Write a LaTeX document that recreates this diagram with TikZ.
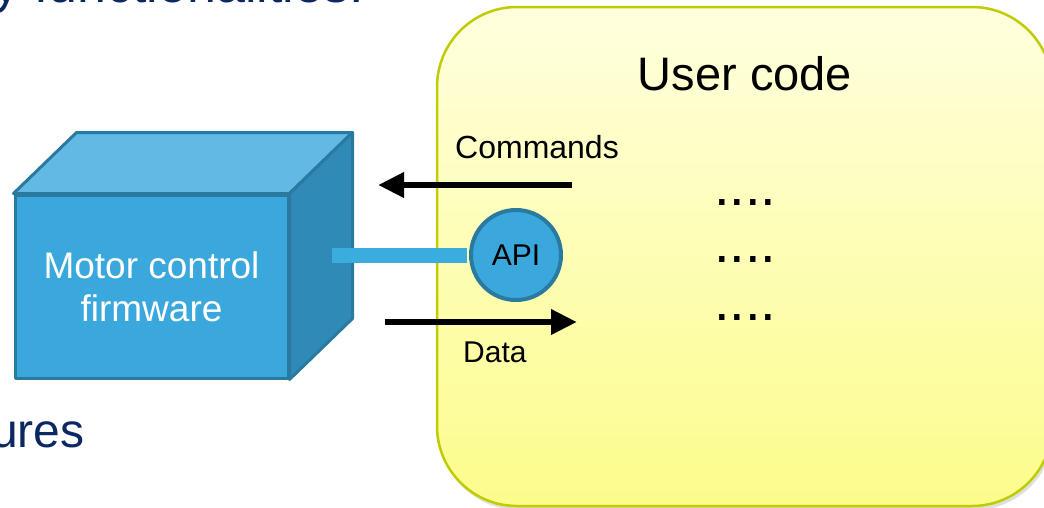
\documentclass[tikz,border=0pt]{standalone}
\usepackage{fontspec}
\setmainfont{Liberation Sans}
\usepackage{xcolor}
\usepackage{tikz}
\usetikzlibrary{arrows.meta,calc,shadows}
\definecolor{navy}{RGB}{12,40,98}
\definecolor{cubefront}{RGB}{58,168,220}
\definecolor{cubetop}{RGB}{98,185,228}
\definecolor{cubeside}{RGB}{47,138,184}
\definecolor{cubeline}{RGB}{42,122,160}
\definecolor{apibar}{RGB}{58,172,222}
\definecolor{boxline}{RGB}{190,204,0}
\definecolor{boxtop}{RGB}{255,255,222}
\definecolor{boxbottom}{RGB}{252,252,140}

\begin{document}
\begin{tikzpicture}[x=1pt,y=-1pt,
  txt/.style={inner sep=0pt, font=\fontsize{#1}{#1}\selectfont},
  face/.style={draw=cubeline, line width=3pt, line join=round},
  flow/.style={line width=6.5pt, -{Triangle[length=26pt,width=24pt]}}]
\useasboundingbox (0,0) rectangle (1044,507);
\clip (0,0) rectangle (1044,507);
% slide text around the picture
\node[txt=52, text=navy, anchor=base east] (head) at (364,2) {y functionalities:};
\node[txt=48, text=navy, anchor=base west] (tail) at (-9,447) {ures};
% user code box
\node[draw=boxline, line width=2.5pt, rounded corners=80pt,
  top color=boxtop, bottom color=boxbottom,
  minimum width=615pt, minimum height=499pt,
  drop shadow={shadow xshift=2pt, shadow yshift=-4pt, opacity=0.25}] (user) at (744.5,256.5) {};
\node[txt=47, anchor=base] (title) at (745,90) {User code};
\foreach \y [count=\i] in {205,262,320}
  \node[txt=56, anchor=base west] (dots\i) at (714,\y) {....};
% firmware cube
\node[face, fill=cubefront, minimum width=273pt, minimum height=183pt,
  text=white, align=center, font=\fontsize{37}{43}\selectfont] (front) at (151.5,286.5) {Motor control\\firmware};
\draw[face, fill=cubetop] (front.north west) -- ++(63,-61) -- ($(front.north east)+(63,-61)$) -- (front.north east) -- cycle;
\draw[face, fill=cubeside] (front.north east) -- ++(63,-61) -- ($(front.south east)+(63,-61)$) -- (front.south east) -- cycle;
% API
\coordinate (port) at (332,255);
\node[circle, draw=cubeline, line width=4pt, fill=cubefront, minimum size=90pt,
  inner sep=0pt, font=\fontsize{30}{30}\selectfont] (api) at (516,255) {API};
\draw[apibar, line width=15pt, shorten >=2pt] (port) -- (api);
% commands and data
\coordinate (cmdstart) at (572,185);
\coordinate (cmdend) at (378,185);
\draw[flow] (cmdstart) -- (cmdend);
\node[txt=32, anchor=base west] (cmd) at (455,158) {Commands};
\coordinate (datastart) at (385,322);
\coordinate (dataend) at (577,322);
\draw[flow] (datastart) -- (dataend);
\node[txt=30, anchor=base west] (data) at (463,362) {Data};
\end{tikzpicture}
\end{document}
